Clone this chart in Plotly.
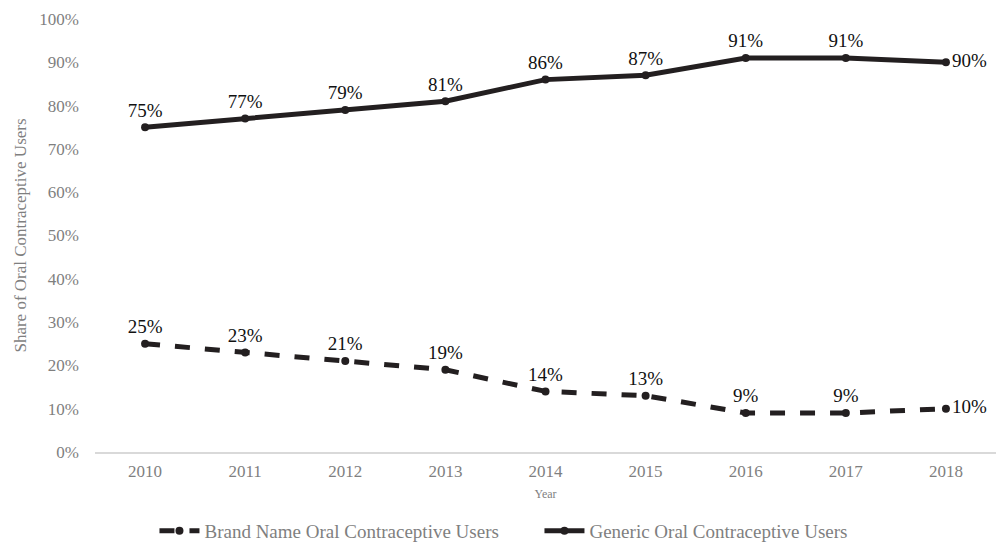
import plotly.graph_objects as go

years = ["2010", "2011", "2012", "2013", "2014", "2015", "2016", "2017", "2018"]
brand = [25, 23, 21, 19, 14, 13, 9, 9, 10]
generic = [75, 77, 79, 81, 86, 87, 91, 91, 90]
y_ticks = [0, 10, 20, 30, 40, 50, 60, 70, 80, 90, 100]
y_tick_labels = [f"{v}%" for v in y_ticks]

font_family = "Liberation Serif, Times New Roman, serif"
positions = ["top center"] * (len(years) - 1) + ["middle right"]

fig = go.Figure()
fig.add_trace(go.Scatter(
    x=years, y=brand, name="Brand Name Oral Contraceptive Users",
    mode="lines+markers+text",
    line=dict(color="#231f20", width=5, dash="dash"),
    marker=dict(symbol="circle", size=8, color="#231f20"),
    text=[f"{v}%" for v in brand], textposition=positions,
    textfont=dict(family=font_family, size=19, color="#111111"),
    cliponaxis=False,
))
fig.add_trace(go.Scatter(
    x=years, y=generic, name="Generic Oral Contraceptive Users",
    mode="lines+markers+text",
    line=dict(color="#231f20", width=5),
    marker=dict(symbol="circle", size=8, color="#231f20"),
    text=[f"{v}%" for v in generic], textposition=positions,
    textfont=dict(family=font_family, size=19, color="#111111"),
    cliponaxis=False,
))

fig.update_layout(
    width=996, height=552,
    margin=dict(l=95, r=0, t=19, b=100),
    paper_bgcolor="white", plot_bgcolor="white",
    font=dict(family=font_family, color="#7f7f7f", size=16),
    showlegend=True,
    legend=dict(orientation="h", x=0.066, xanchor="left", y=-0.226, yanchor="bottom",
                font=dict(size=19, color="#7f7f7f"), traceorder="normal",
                itemwidth=40, entrywidth=330),
    hovermode=False,
)
fig.update_xaxes(
    type="category", range=[-0.5, 8.5],
    showgrid=False, showline=True, linecolor="#d9d9d9", linewidth=2,
    ticks="", ticklabelstandoff=3, tickfont=dict(size=17, color="#7f7f7f"),
    title=dict(text="Year", font=dict(size=12, color="#7f7f7f"), standoff=9),
)
fig.update_yaxes(
    range=[0, 100], tickvals=y_ticks, ticktext=y_tick_labels,
    showgrid=False, zeroline=False, showline=False,
    ticks="", ticklabelstandoff=15, tickfont=dict(size=17, color="#7f7f7f"),
    title=dict(text="Share of Oral Contraceptive Users", font=dict(size=17, color="#7f7f7f"), standoff=8),
)

fig.write_html("out.html")
